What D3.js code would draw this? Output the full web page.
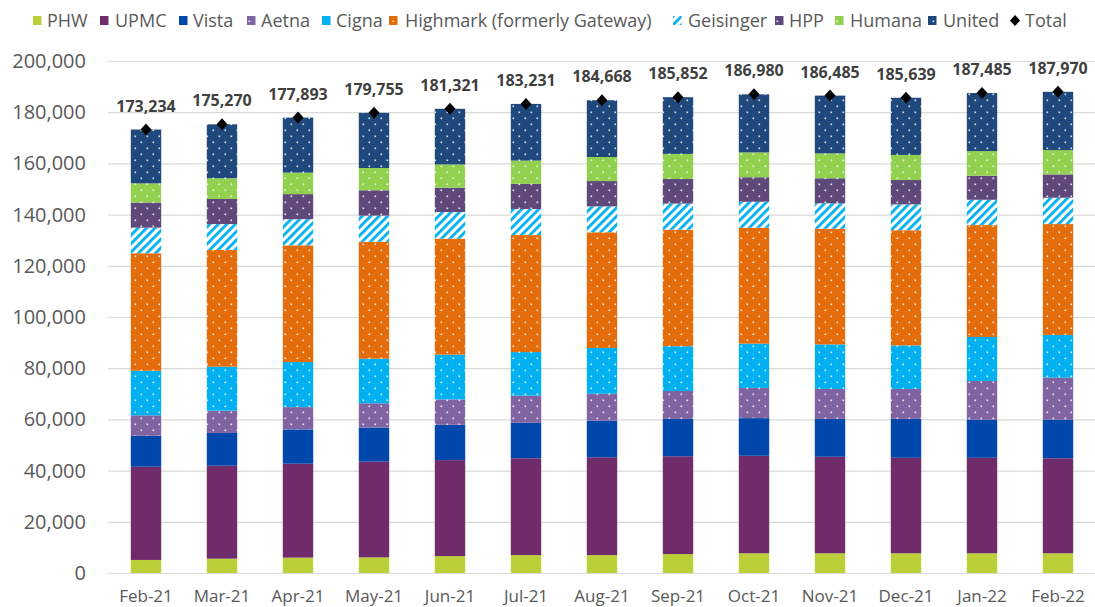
<!DOCTYPE html>
<html>
<head>
<meta charset="utf-8">
<script src="https://cdn.jsdelivr.net/npm/d3@7"></script>
<style>
  html, body { margin: 0; padding: 0; background: #fff; }
  svg { display: block; font-family: 'Open Sans', sans-serif; }
</style>
</head>
<body>
<div id="wrapper"></div>
<script>
// values, members per plan
const months = ['Feb-21', 'Mar-21', 'Apr-21', 'May-21', 'Jun-21', 'Jul-21', 'Aug-21',
  'Sep-21', 'Oct-21', 'Nov-21', 'Dec-21', 'Jan-22', 'Feb-22'];
const phw = [5100, 5600, 6000, 6100, 6600, 7000, 7000, 7400, 7700, 7700, 7700, 7700, 7700];
const upmc = [36400, 36300, 36700, 37400, 37500, 37800, 38200, 38200, 38100, 37700, 37300, 37300, 37100];
const vista = [12100, 12800, 13400, 13300, 13800, 13900, 14300, 14600, 14700, 14800, 15200, 14900, 15100];
const aetna = [8000, 8700, 8700, 9500, 9900, 10600, 10500, 10900, 11800, 11700, 11700, 15100, 16400];
const cigna = [17400, 17200, 17600, 17400, 17500, 17000, 17900, 17500, 17300, 17400, 17000, 17200, 16700];
const highmark = [45900, 45600, 45600, 45700, 45300, 45700, 45200, 45500, 45300, 45200, 45000, 43700, 43300];
const geisinger = [10000, 10100, 10200, 10200, 10400, 10200, 10100, 10200, 10100, 9900, 10100, 9900, 10300];
const hpp = [9800, 9800, 9800, 9900, 9500, 9800, 9900, 9600, 9600, 9800, 9500, 9400, 9100];
const humana = [7500, 8100, 8400, 8700, 9100, 9100, 9400, 9800, 9700, 9700, 9800, 9600, 9500];
const united = [21034, 21070, 21493, 21555, 21721, 22131, 22168, 22152, 22680, 22585, 22339, 22685, 22770];
const totals = [173234, 175270, 177893, 179755, 181321, 183231, 184668, 185852, 186980, 186485, 185639, 187485, 187970];
const yTicks = [0, 20000, 40000, 60000, 80000, 100000, 120000, 140000, 160000, 180000, 200000];

const series = [
  { key: 'PHW', values: phw, color: '#bbcf38', fill: 'solid' },
  { key: 'UPMC', values: upmc, color: '#702c6a', fill: 'solid' },
  { key: 'Vista', values: vista, color: '#0047ab', fill: 'solid' },
  { key: 'Aetna', values: aetna, color: '#8064a2', fill: 'dots' },
  { key: 'Cigna', values: cigna, color: '#00b0f0', fill: 'dots' },
  { key: 'Highmark (formerly Gateway)', values: highmark, color: '#e46c0a', fill: 'dots' },
  { key: 'Geisinger', values: geisinger, color: '#00b0f0', fill: 'stripes' },
  { key: 'HPP', values: hpp, color: '#5f497a', fill: 'dots' },
  { key: 'Humana', values: humana, color: '#92d050', fill: 'dots' },
  { key: 'United', values: united, color: '#1f497d', fill: 'dots' },
];

const legendMarkerX = [33, 100, 179, 247, 322, 389, 673, 775, 835, 928, 1010];
const legendTextX = [47, 115, 193, 261, 336, 405, 688, 789, 850, 943, 1025];

function drawChart() {
  // 1. Build the table
  const table = months.map((m, i) => {
    const row = { month: m, total: totals[i] };
    series.forEach((s) => { row[s.key] = s.values[i]; });
    return row;
  });
  const stacked = d3.stack().keys(series.map((s) => s.key))(table);

  // 2. Dimensions
  const dimensions = {
    width: 1095,
    height: 607,
    margin: { top: 61, right: 0, bottom: 34, left: 108 },
  };
  dimensions.boundedWidth = dimensions.width - dimensions.margin.left - dimensions.margin.right;
  dimensions.boundedHeight = dimensions.height - dimensions.margin.top - dimensions.margin.bottom;

  // 3. Canvas
  const wrapper = d3.select('#wrapper').append('svg')
    .attr('width', dimensions.width)
    .attr('height', dimensions.height);

  const defs = wrapper.append('defs');
  const fillFor = (s, i) => {
    if (s.fill === 'solid') return s.color;
    const id = 'pat' + i;
    if (s.fill === 'dots') {
      const p = defs.append('pattern').attr('id', id)
        .attr('patternUnits', 'userSpaceOnUse').attr('width', 12).attr('height', 12);
      p.append('rect').attr('width', 12).attr('height', 12).attr('fill', s.color);
      p.append('rect').attr('x', 2.5).attr('y', 2.5).attr('width', 1.6).attr('height', 1.6)
        .attr('fill', '#fff').attr('opacity', 0.85);
      p.append('rect').attr('x', 8.5).attr('y', 8.5).attr('width', 1.6).attr('height', 1.6)
        .attr('fill', '#fff').attr('opacity', 0.85);
    } else {
      const p = defs.append('pattern').attr('id', id)
        .attr('patternUnits', 'userSpaceOnUse').attr('width', 6).attr('height', 6)
        .attr('patternTransform', 'rotate(45)');
      p.append('rect').attr('width', 6).attr('height', 6).attr('fill', '#fff');
      p.append('rect').attr('width', 2.8).attr('height', 6).attr('fill', s.color);
    }
    return `url(#${id})`;
  };
  series.forEach((s, i) => { s.paint = fillFor(s, i); });

  const bounds = wrapper.append('g')
    .attr('transform', `translate(${dimensions.margin.left},${dimensions.margin.top})`);

  // 4. Scales
  const xScale = d3.scaleBand()
    .domain(months)
    .range([0, dimensions.boundedWidth + 1])
    .paddingInner(0.6)
    .paddingOuter(0.3);

  const yScale = d3.scaleLinear()
    .domain([0, 200000])
    .range([dimensions.boundedHeight, 0]);

  // 5. Gridlines and y axis labels
  const yAxisGenerator = d3.axisLeft(yScale)
    .tickValues(yTicks)
    .tickFormat(d3.format(','))
    .tickSize(-dimensions.boundedWidth)
    .tickPadding(22);
  const yAxis = bounds.append('g').call(yAxisGenerator);
  yAxis.select('.domain').remove();
  yAxis.selectAll('.tick line').attr('stroke', '#d9d9d9').attr('stroke-width', 1.2);
  yAxis.selectAll('.tick text')
    .attr('fill', '#595959')
    .style('font-size', '20px')
    .style('font-family', "'Open Sans', sans-serif");

  // 6. Bars
  bounds.append('g').selectAll('g')
    .data(stacked)
    .join('g')
    .attr('fill', (d, i) => series[i].paint)
    .selectAll('rect')
    .data((d) => d)
    .join('rect')
    .attr('x', (d) => xScale(d.data.month))
    .attr('y', (d) => yScale(d[1]))
    .attr('width', xScale.bandwidth())
    .attr('height', (d) => yScale(d[0]) - yScale(d[1]));

  // 7. Totals: diamond markers and labels
  const diamond = (cx, cy, w, h) => {
    const p = d3.path();
    p.moveTo(cx, cy - h); p.lineTo(cx + w, cy); p.lineTo(cx, cy + h); p.lineTo(cx - w, cy);
    p.closePath();
    return p.toString();
  };
  const cx = (d) => xScale(d.month) + xScale.bandwidth() / 2;

  bounds.append('g').selectAll('path')
    .data(table)
    .join('path')
    .attr('d', (d) => diamond(cx(d), yScale(d.total), 5.5, 6))
    .attr('fill', '#000');

  bounds.append('g').selectAll('text')
    .data(table)
    .join('text')
    .attr('x', cx)
    .attr('y', (d) => yScale(d.total) - 18)
    .attr('text-anchor', 'middle')
    .attr('fill', '#404040')
    .style('font-size', '16px')
    .style('font-weight', 700)
    .text((d) => d3.format(',')(d.total));

  // 8. X axis labels
  bounds.append('g').selectAll('text')
    .data(months)
    .join('text')
    .attr('x', (d) => xScale(d) + xScale.bandwidth() / 2)
    .attr('y', dimensions.boundedHeight + 29)
    .attr('text-anchor', 'middle')
    .attr('fill', '#595959')
    .style('font-size', '17px')
    .text((d) => d);

  // 9. Legend
  const items = series.map((s) => ({ label: s.key, paint: s.paint, type: 'box' }))
    .concat([{ label: 'Total', type: 'diamond' }]);
  const legend = wrapper.append('g');
  items.forEach((it, i) => {
    const mx = legendMarkerX[i];
    if (it.type === 'box') {
      legend.append('rect').attr('x', mx).attr('y', 16).attr('width', 8.5).attr('height', 9)
        .attr('fill', it.paint);
    } else {
      legend.append('path').attr('d', diamond(mx + 5, 20.5, 5, 5.5)).attr('fill', '#000');
    }
    legend.append('text')
      .attr('x', legendTextX[i])
      .attr('y', 27)
      .attr('fill', '#595959')
      .style('font-size', '18px')
      .text(it.label);
  });
}
drawChart();
</script>
</body>
</html>
